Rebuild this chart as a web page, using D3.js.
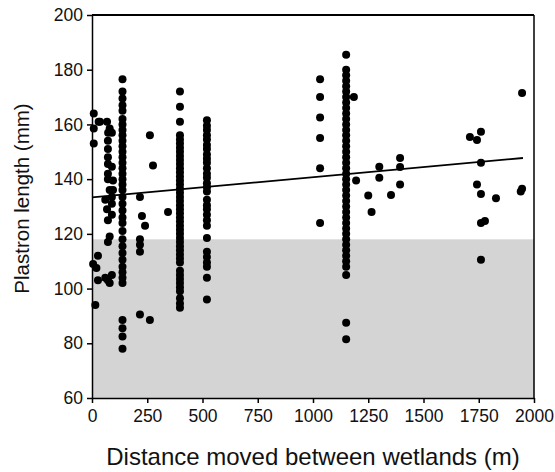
<!DOCTYPE html>
<html>
<head>
<meta charset="utf-8">
<script src="https://cdn.jsdelivr.net/npm/d3@7"></script>
<style>
  body { margin: 0; background: #fff; }
  svg text { font-family: "Liberation Sans", Arial, Helvetica, sans-serif; fill: #111; }
  .axis path, .axis line { stroke: #000; stroke-width: 1.5px; }
  .dot { fill: #000; }
</style>
</head>
<body>
<div id="chart"></div>
<script>
// [distance (m), plastron length (mm)], grouped by site
var nearPts = [[8,164],[8,158.5],[30,161],[8,153],[27,112],[5,109],[20,107.5],[27,103],[15,94]]

var pts75 = [[36,161],[68,161],[80,158.5],[73,157],[90,157],[72,154],[72,151],[72,148],[72,145.5],
    [90,144.5],[72,142],[72,140],[80,136],[60,132.5],[90,133.5],[68,129],[90,131],[90,127],
    [72,125],[80,119],[72,117],[90,105],[72,103],[80,102],[60,104],[95,139.5],[95,136]]

var col140 = [176.5,172,169.5,167,165,162,160,158,156,154,152,150,148,146,144,142,140,138,136,
    133.5,131,128.5,126,124,121,118,115.5,113,110.5,108,106,104,102,88.5,85.5,82.5,78]

var pts250 = [[217,133.5],[226,126.5],[240,123],[217,118],[217,116],[217,113.5],[217,90.5],
    [262,88.5],[262,156],[276,145],[344,128]]

var col400 = [172,166.5,161,156,154.5,153,151.5,150,148.5,147,145.5,144,142.5,141,139.5,138,
    136.5,135,133.5,132,130.5,129,127.5,126,124.5,123,121.5,120,118.5,117,115.5,114,112.5,111,
    109.5,106.5,105,103.5,102,100.5,99,96.5,94.5,93]

var col520 = [161.5,159.5,158,156,154.5,152.5,151,149,147.5,146,144,142,140.5,138.5,137,135.5,
    132.5,130.5,129,127,125,123,118.5,113.5,111.5,109.5,108,104,96]

var col1030 = [176.5,170,162.5,155,144,124]

var col1150 = [185.5,180,178,176,174,172,170,168,166,164,162,160,158,156,154,152,150,148,146,
    144,142,140,138,136,134,132,130,128,126,124,122,120,118,116,114,112,110,108,105,87.5,81.5]

var farPts = [[1185,170],[1195,139.5],[1250,134],[1265,128],[1300,144.5],[1300,140.5],
    [1353,134.2],[1394,147.7],[1394,144.4],[1394,138],[1710,155.4],[1742,154.3],[1760,157.3],
    [1760,146],[1742,138],[1760,134.6],[1828,133],[1760,124],[1778,124.7],[1760,110.5],
    [1946,171.5],[1946,136.5],[1940,135.5]]

// column sites share one distance
var columns = [
    {x: 138, vals: col140},
    {x: 398, vals: col400},
    {x: 520, vals: col520},
    {x: 1032, vals: col1030},
    {x: 1150, vals: col1150}
]

var fit = {intercept: 133.3, slope: 0.0074, from: 0, to: 1950}
var shadeMax = 118

var xTicks = [0,250,500,750,1000,1250,1500,1750,2000]
var yTicks = [60,80,100,120,140,160,180,200]

var margin = {top: 15, right: 21, bottom: 74, left: 92}
var W = 555, H = 472
var width = W - margin.left - margin.right,
    height = H - margin.top - margin.bottom

var svg = d3.select("#chart").append("svg")
    .attr("width", W)
    .attr("height", H)
    .append("g")
        .attr("transform", "translate(" + margin.left + "," + margin.top + ")")

var x = d3.scaleLinear().domain([0, 2000]).range([0, width])
var y = d3.scaleLinear().domain([60, 200]).range([height, 0])

// shaded band
svg.append("rect")
    .attr("x", x(0))
    .attr("y", y(shadeMax))
    .attr("width", x(2000) - x(0))
    .attr("height", y(60) - y(shadeMax))
    .attr("fill", "#d4d4d4")

var allPts = nearPts.concat(pts75, pts250, farPts)
columns.forEach(function(c){
    c.vals.forEach(function(v){ allPts.push([c.x, v]) })
})

svg.append("g").selectAll("circle")
    .data(allPts)
    .enter().append("circle")
    .attr("class", "dot")
    .attr("cx", d => x(d[0]))
    .attr("cy", d => y(d[1]))
    .attr("r", 4)

svg.append("line")
    .attr("x1", x(fit.from))
    .attr("y1", y(fit.intercept + fit.slope * fit.from))
    .attr("x2", x(fit.to))
    .attr("y2", y(fit.intercept + fit.slope * fit.to))
    .attr("stroke", "#000")
    .attr("stroke-width", 1.8)

// frame top / right
svg.append("line").attr("x1", 0).attr("x2", width).attr("y1", 0).attr("y2", 0)
    .attr("stroke", "#000").attr("stroke-width", 2)
svg.append("line").attr("x1", width).attr("x2", width).attr("y1", 0).attr("y2", height)
    .attr("stroke", "#000").attr("stroke-width", 1.5)

var xAxis = svg.append("g")
    .attr("class", "axis")
    .attr("transform", "translate(0," + height + ")")
    .call(d3.axisBottom(x).tickValues(xTicks).tickSize(5).tickSizeOuter(0).tickFormat(d3.format("d")))

var yAxis = svg.append("g")
    .attr("class", "axis")
    .call(d3.axisLeft(y).tickValues(yTicks).tickSize(5).tickSizeOuter(0))

xAxis.selectAll("text").attr("font-size", "17.5px").attr("dy", "0.9em")
yAxis.selectAll("text").attr("font-size", "17.5px").attr("dx", "-1px")
svg.selectAll(".axis .domain").attr("stroke-width", 1.5)

svg.append("text")
    .attr("x", width / 2)
    .attr("y", height + 67)
    .attr("text-anchor", "middle")
    .attr("font-size", "24px")
    .text("Distance moved between wetlands (m)")

svg.append("text")
    .attr("transform", "rotate(-90)")
    .attr("x", -height / 2 + 8)
    .attr("y", -margin.left + 29)
    .attr("text-anchor", "middle")
    .attr("font-size", "20.5px")
    .text("Plastron length (mm)")
</script>
</body>
</html>
